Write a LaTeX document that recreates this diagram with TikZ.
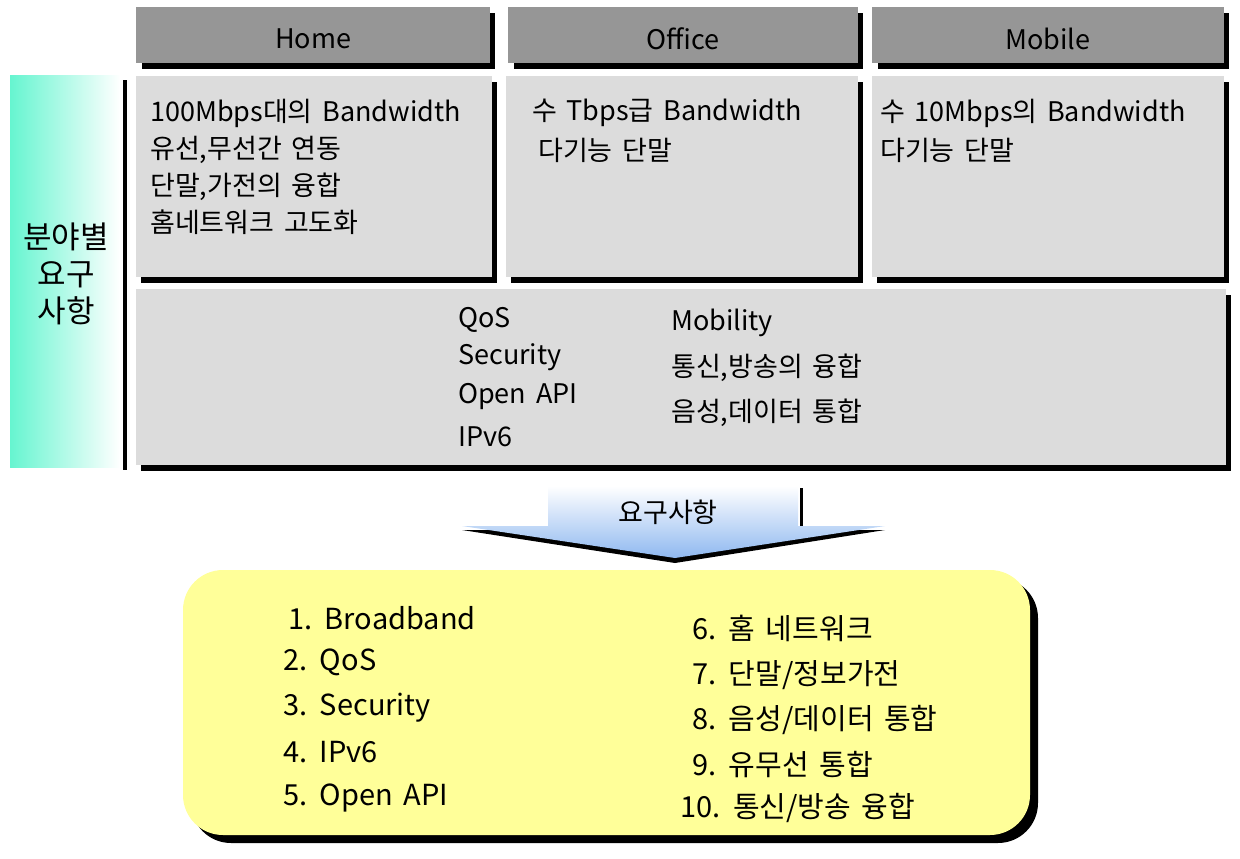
\documentclass[tikz,border=0pt]{standalone}
\usepackage{fontspec}
\setmainfont{Noto Sans CJK KR}[WordSpace=1.6]
\begin{document}
\begin{tikzpicture}[x=1pt,y=-1pt,
  txt/.style={anchor=west,inner sep=0pt,font=\fontsize{27}{30}\selectfont},
  ytxt/.style={anchor=west,inner sep=0pt,font=\fontsize{29}{32}\selectfont},
  ctxt/.style={inner sep=0pt,font=\fontsize{27}{30}\selectfont}]
\useasboundingbox (0,0) rectangle (1240,859);
\definecolor{hdr}{HTML}{969696}
\definecolor{cnt}{HTML}{DCDCDC}
\definecolor{ylw}{HTML}{FFFF99}
\definecolor{aq}{HTML}{66F5D0}
\definecolor{bl}{HTML}{8FB8F0}
% headers
\foreach \a/\b/\t [count=\i] in {136/490/Home,508/858/Office,872/1224/Mobile}{
  \fill[black] (\a+6,13) rectangle (\b+5,69);
  \fill[hdr] (\a,7) rectangle (\b,63);
  \node[ctxt] (h\i) at ({(\a+\b)/2},39) {\t};
}
% content boxes
\foreach \a/\b in {136/492,506/858,872/1224}{
  \fill[black] (\a+5,82) rectangle (\b+5,283);
  \fill[cnt] (\a,76) rectangle (\b,277);
}
\fill[black] (141,295) rectangle (1231,471);
\fill[cnt] (136,289) rectangle (1226,465);
% left box
\fill[black] (123,80) rectangle (127,470);
\shade[left color=aq,right color=white] (10,76) rectangle (120,467);
\node[ctxt,align=center,font=\fontsize{31}{37}\selectfont] (lbl) at (66,274) {분야별\\요구\\사항};
% home texts
\node[txt] (t1) at (150,113) {100Mbps대의 Bandwidth};
\node[txt] (t2) at (150,150) {유선,무선간 연동};
\node[txt] (t3) at (150,187) {단말,가전의 융합};
\node[txt] (t4) at (150,222) {홈네트워크 고도화};
\node[txt] (o1) at (532,113) {수 Tbps급 Bandwidth};
\node[txt] (o2) at (538,150) {다기능 단말};
\node[txt] (m1) at (880,113) {수 10Mbps의 Bandwidth};
\node[txt] (m2) at (880,150) {다기능 단말};
\node[txt] (w1) at (458,320) {QoS};
\node[txt] (w2) at (458,357) {Security};
\node[txt] (w3) at (458,397) {Open API};
\node[txt] (w4) at (458,437) {IPv6};
\node[txt] (w5) at (671,323) {Mobility};
\node[txt] (w6) at (671,368) {통신,방송의 융합};
\node[txt] (w7) at (671,413) {음성,데이터 통합};
% arrow
\fill[black] (800,488) rectangle (803,526);
\fill[black] (462,530) -- (885,530) -- (675,563) -- cycle;
\shade[top color=white,bottom color=bl] (548,486) -- (798,486) -- (798,526) -- (885,526) -- (675,558) -- (462,526) -- (548,526) -- cycle;
\node[ctxt] (arr) at (668,512) {요구사항};
% yellow box
\fill[black,rounded corners=40] (191,578) rectangle (1038,843);
\fill[ylw,rounded corners=40] (183,570) rectangle (1030,835);
\node[ytxt] (y1) at (288,618) {1. Broadband};
\node[ytxt] (y2) at (283,662) {2. QoS};
\node[ytxt] (y3) at (283,708) {3. Security};
\node[ytxt] (y4) at (283,752) {4. IPv6};
\node[ytxt] (y5) at (283,798) {5. Open API};
\node[ytxt] (y6) at (692,628) {6. 홈 네트워크};
\node[ytxt] (y7) at (692,675) {7. 단말/정보가전};
\node[ytxt] (y8) at (692,720) {8. 음성/데이터 통합};
\node[ytxt] (y9) at (692,765) {9. 유무선 통합};
\node[ytxt] (y10) at (680,808) {10. 통신/방송 융합};
\end{tikzpicture}
\end{document}
